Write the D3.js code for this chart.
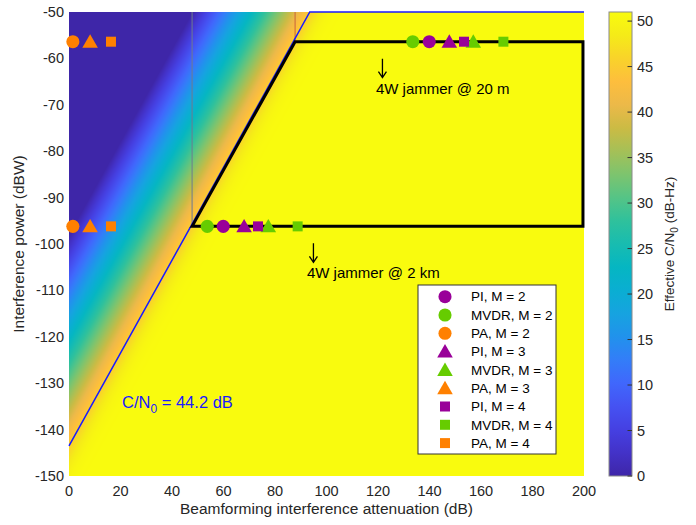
<!DOCTYPE html>
<html>
<head>
<meta charset="utf-8">
<script src="https://cdn.jsdelivr.net/npm/d3@7"></script>
<style>
  body { margin: 0; background: #fff; }
  svg { font-family: "Liberation Sans", Arial, sans-serif; }
</style>
</head>
<body>
<div id="chart"></div>
<script>
// axes
const xTicks = [0, 20, 40, 60, 80, 100, 120, 140, 160, 180, 200];
const yTicks = [-150, -140, -130, -120, -110, -100, -90, -80, -70, -60, -50];
const cbTicks = [0, 5, 10, 15, 20, 25, 30, 35, 40, 45, 50];

// effective C/N0 model (dB-Hz): saturates at cn0Max, 0 where J - A = -jamOffset
const cn0Max = 51;
const jamOffset = 98;
const knee = 2;

// 44.2 dB contour
const contourX = [0, 93.5, 200];
const contourY = [-143.5, -50, -50];

// operating region outline
const regionX = [47.8, 87.8, 199.6, 199.6, 47.8];
const regionY = [-96.2, -56.4, -56.4, -96.2, -96.2];

// jammer scenarios: interference power (dBW)
const jamNear = -56.4;   // 4W @ 20 m
const jamFar = -96.2;    // 4W @ 2 km

// beamforming attenuation (dB) for M = 2, 3, 4
const arrays = [2, 3, 4];
const piNear = [139.9, 147.7, 153.4];
const mvdrNear = [133.5, 157.0, 168.7];
const paNear = [1.5, 8.2, 16.3];
const piFar = [59.9, 68.0, 73.4];
const mvdrFar = [53.7, 77.4, 88.8];
const paFar = [1.5, 8.2, 16.3];

// parula stops
const parulaT = [0, 0.05, 0.1, 0.15, 0.2, 0.25, 0.3, 0.35, 0.4, 0.45, 0.5, 0.55, 0.6, 0.65, 0.7, 0.75, 0.8, 0.85, 0.9, 0.95, 1];
const parulaC = ["#3e26a8", "#4332c8", "#4540e2", "#4552f2", "#4067fc", "#337df8", "#2192ec", "#16a3e0", "#0aaed2", "#05b6c2",
                 "#18bcb0", "#2fc19c", "#55c486", "#7dc46e", "#a5c057", "#cbbb44", "#ecb949", "#fdbe3d", "#f9d32a", "#f5eb18", "#f9fb0e"];

const W = 696, H = 525;
const m = { left: 69, right: 584, top: 12, bottom: 476 };

const x = d3.scaleLinear().domain([0, 200]).range([m.left, m.right]);
const y = d3.scaleLinear().domain([-150, -50]).range([m.bottom, m.top]);
const color = d3.scaleLinear()
  .domain(parulaT.map(t => t * cn0Max))
  .range(parulaC)
  .interpolate(d3.interpolateRgb)
  .clamp(true);

function cn0(a, j) {
  const t = j - a + jamOffset;
  const v = -(10 / knee) * Math.log10(Math.pow(10, -knee * cn0Max / 10) + Math.pow(10, knee * t / 10));
  return Math.max(0, v);
}

const svg = d3.select("#chart").append("svg")
  .attr("width", W).attr("height", H);

// heat map
const pw = Math.round(m.right - m.left), ph = Math.round(m.bottom - m.top);
const canvas = document.createElement("canvas");
canvas.width = pw; canvas.height = ph;
const ctx = canvas.getContext("2d");
const img = ctx.createImageData(pw, ph);
for (let r = 0; r < ph; r++) {
  const jv = y.invert(m.top + r + 0.5);
  for (let c = 0; c < pw; c++) {
    const av = x.invert(m.left + c + 0.5);
    const col = d3.rgb(color(cn0(av, jv)));
    const k = (r * pw + c) * 4;
    img.data[k] = col.r; img.data[k + 1] = col.g; img.data[k + 2] = col.b; img.data[k + 3] = 255;
  }
}
ctx.putImageData(img, 0, 0);
svg.append("image")
  .attr("x", m.left).attr("y", m.top)
  .attr("width", pw).attr("height", ph)
  .attr("preserveAspectRatio", "none")
  .attr("href", canvas.toDataURL());

// vertical guide lines
svg.append("line")
  .attr("x1", x(regionX[0])).attr("x2", x(regionX[0]))
  .attr("y1", y(-50)).attr("y2", y(regionY[0]))
  .attr("stroke", "#6f7a90").attr("stroke-width", 1);
svg.append("line")
  .attr("x1", x(regionX[1])).attr("x2", x(regionX[1]))
  .attr("y1", y(-50)).attr("y2", y(regionY[1]))
  .attr("stroke", "#c8643c").attr("stroke-width", 1);

// contour line
const line = d3.line().x(d => x(d[0])).y(d => y(d[1]));
svg.append("path")
  .attr("d", line(contourX.map((v, i) => [v, contourY[i]])))
  .attr("fill", "none").attr("stroke", "#1a1aff").attr("stroke-width", 1.5);

// region outline
svg.append("path")
  .attr("d", line(regionX.map((v, i) => [v, regionY[i]])) + "Z")
  .attr("fill", "none").attr("stroke", "#000").attr("stroke-width", 3)
  .attr("stroke-linejoin", "miter");

// markers
const purple = "#990099", green = "#66cc00", orange = "#ff8000";
const shapes = [d3.symbolCircle, d3.symbolTriangle, d3.symbolSquare];
const sizes = [135, 105, 100];
const sym = (i) => d3.symbol().type(shapes[i]).size(sizes[i])();

const series = [
  { name: "PA", color: orange, near: paNear, far: paFar },
  { name: "MVDR", color: green, near: mvdrNear, far: mvdrFar },
  { name: "PI", color: purple, near: piNear, far: piFar }
];
const pts = [];
arrays.forEach((M, i) => {
  series.forEach(s => {
    pts.push({ a: s.near[i], j: jamNear, i, color: s.color });
    pts.push({ a: s.far[i], j: jamFar, i, color: s.color });
  });
});
svg.append("g").selectAll("path")
  .data(pts)
  .join("path")
  .attr("d", d => sym(d.i))
  .attr("transform", d => `translate(${x(d.a)},${y(d.j) + (d.i === 1 ? 1.5 : 0)})`)
  .attr("fill", d => d.color);

// annotations: down arrow above the label
const ann = [
  { a: 119.2, j: jamNear, label: "4W jammer @ 20 m" },
  { a: 92.4, j: jamFar, label: "4W jammer @ 2 km" }
];
ann.forEach(d => {
  const ax = x(d.a) + 6.5, top = y(d.j) + 17, bot = y(d.j) + 36;
  svg.append("path")
    .attr("d", `M${ax},${top}V${bot}M${ax - 4},${bot - 6}L${ax},${bot}L${ax + 4},${bot - 6}`)
    .attr("fill", "none").attr("stroke", "#000").attr("stroke-width", 1.3);
  svg.append("text")
    .attr("x", x(d.a)).attr("y", y(d.j) + 52)
    .attr("font-size", 15)
    .attr("fill", "#000")
    .text(d.label);
});

// contour label
const cl = svg.append("text")
  .attr("x", x(20.6)).attr("y", y(-135.3))
  .attr("font-size", 16.5).attr("fill", "#1a1aff");
cl.append("tspan").text("C/N");
cl.append("tspan").attr("font-size", 12).attr("dy", 5).text("0");
cl.append("tspan").attr("dy", -5).text(" = 44.2 dB");

// axes tick labels
const tickColor = "#262626";
svg.append("g").selectAll("text")
  .data(xTicks).join("text")
  .attr("x", d => x(d)).attr("y", 496)
  .attr("text-anchor", "middle").attr("font-size", 14.5).attr("fill", tickColor)
  .text(d => d);
svg.append("g").selectAll("text")
  .data(yTicks).join("text")
  .attr("x", m.left - 5).attr("y", d => y(d)).attr("dy", "0.35em")
  .attr("text-anchor", "end").attr("font-size", 14.5).attr("fill", tickColor)
  .text(d => d);

svg.append("text")
  .attr("x", (m.left + m.right) / 2).attr("y", 514)
  .attr("text-anchor", "middle").attr("font-size", 15.5).attr("fill", tickColor)
  .text("Beamforming interference attenuation (dB)");
svg.append("text")
  .attr("transform", `translate(24,${(m.top + m.bottom) / 2}) rotate(-90)`)
  .attr("text-anchor", "middle").attr("font-size", 15.5).attr("fill", tickColor)
  .text("Interference power (dBW)");

// colorbar
const cb = { x0: 609, x1: 632 };
const cbY = d3.scaleLinear().domain([0, cn0Max]).range([m.bottom, m.top]);
const defs = svg.append("defs");
const grad = defs.append("linearGradient").attr("id", "parula")
  .attr("x1", 0).attr("x2", 0).attr("y1", 1).attr("y2", 0);
grad.selectAll("stop").data(parulaT).join("stop")
  .attr("offset", d => d)
  .attr("stop-color", (d, i) => parulaC[i]);
svg.append("rect")
  .attr("x", cb.x0).attr("y", cbY(cn0Max))
  .attr("width", cb.x1 - cb.x0).attr("height", cbY(0) - cbY(cn0Max))
  .attr("fill", "url(#parula)")
  .attr("stroke", "#8a8a8a").attr("stroke-width", 1);
svg.append("g").selectAll("line")
  .data(cbTicks).join("line")
  .attr("x1", cb.x1 - 4.5).attr("x2", cb.x1)
  .attr("y1", d => cbY(d)).attr("y2", d => cbY(d))
  .attr("stroke", "#333").attr("stroke-width", 1);
svg.append("g").selectAll("text")
  .data(cbTicks).join("text")
  .attr("x", 637).attr("y", d => cbY(d)).attr("dy", "0.35em")
  .attr("font-size", 14.5).attr("fill", tickColor)
  .text(d => d);
const cbl = svg.append("text")
  .attr("transform", `translate(674,${(m.top + m.bottom) / 2}) rotate(-90)`)
  .attr("text-anchor", "middle").attr("font-size", 13.5).attr("fill", tickColor);
cbl.append("tspan").text("Effective C/N");
cbl.append("tspan").attr("font-size", 10).attr("dy", 4).text("0");
cbl.append("tspan").attr("dy", -4).text(" (dB-Hz)");

// legend
const legendItems = [];
arrays.forEach((M, i) => {
  [["PI", purple], ["MVDR", green], ["PA", orange]].forEach(([n, c]) => {
    legendItems.push({ label: `${n}, M = ${M}`, color: c, i });
  });
});
const lg = svg.append("g").attr("transform", "translate(418,285)");
lg.append("rect")
  .attr("width", 138).attr("height", 169)
  .attr("fill", "#fff").attr("stroke", "#333").attr("stroke-width", 1);
const row = lg.selectAll("g").data(legendItems).join("g")
  .attr("transform", (d, k) => `translate(0,${11.7 + k * 18.3})`);
row.append("path")
  .attr("d", d => sym(d.i))
  .attr("transform", d => `translate(27,${d.i === 1 ? 1.5 : 0})`)
  .attr("fill", d => d.color);
row.append("text")
  .attr("x", 53).attr("dy", "0.35em")
  .attr("font-size", 13.5).attr("fill", "#000")
  .text(d => d.label);
</script>
</body>
</html>
